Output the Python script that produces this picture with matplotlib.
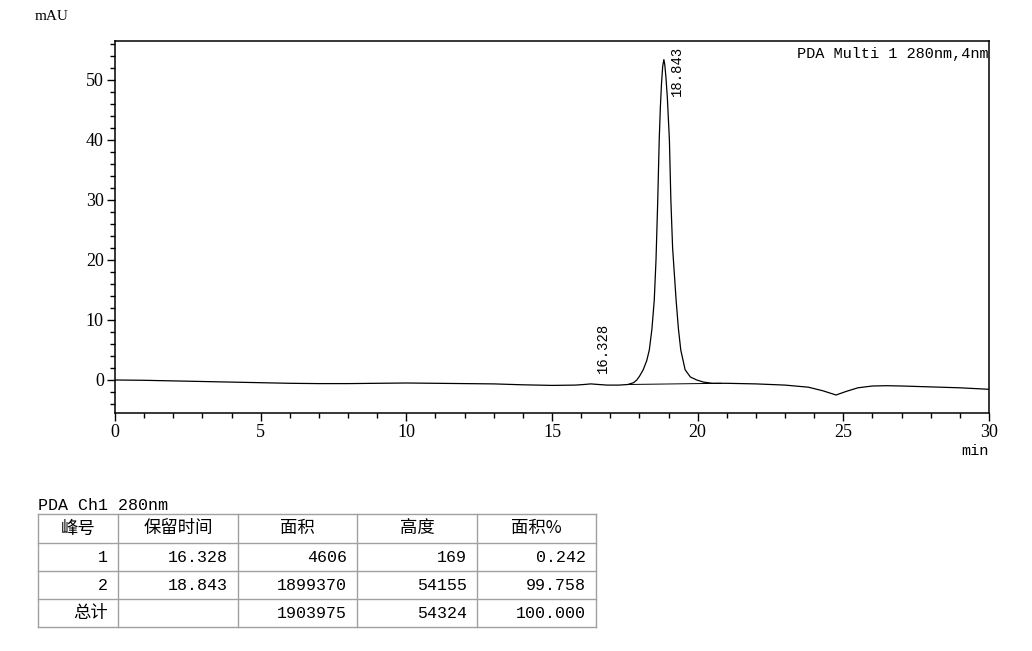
import matplotlib
matplotlib.use("Agg")
import matplotlib.pyplot as plt
from matplotlib.ticker import MultipleLocator

plt.rcParams['font.family'] = ['Liberation Serif', 'Noto Sans CJK SC']

# --- chromatogram trace (time min, signal mAU) ---
trace_t = [0, 1, 2, 3, 4, 5, 6, 7, 8, 9, 10, 11, 12, 13, 14, 15, 15.8, 16.1,
           16.33, 16.6, 16.9, 17.3, 17.6, 17.8, 17.91, 18.0, 18.13, 18.25,
           18.34, 18.43, 18.51, 18.57, 18.63, 18.68, 18.72, 18.76, 18.80,
           18.84, 18.87, 18.91, 18.96, 19.03, 19.08, 19.14, 19.26, 19.34,
           19.42, 19.57, 19.75, 19.97, 20.2, 20.5, 21.0, 21.5, 22, 23, 23.8,
           24.3, 24.75, 25.1, 25.5, 26, 26.5, 27, 28, 29, 30]
trace_y = [0.0, -0.05, -0.15, -0.25, -0.35, -0.45, -0.55, -0.6, -0.6, -0.55,
           -0.5, -0.55, -0.6, -0.65, -0.8, -0.9, -0.85, -0.75, -0.65, -0.75,
           -0.85, -0.85, -0.75, -0.45, 0.0, 0.6, 1.7, 3.2, 5.0, 8.5, 13.3,
           20.0, 30.0, 40.0, 45.5, 49.5, 52.3, 53.4, 52.6, 50.5, 47.0, 40.0,
           30.0, 22.0, 13.3, 8.5, 5.0, 1.7, 0.5, 0.0, -0.35, -0.55, -0.55,
           -0.6, -0.65, -0.85, -1.2, -1.8, -2.5, -1.9, -1.3, -1.0, -0.95,
           -1.0, -1.15, -1.3, -1.55]

# integration baseline under the main peak
base_t = [17.6, 20.8]
base_y = [-0.75, -0.55]

# peak labels
peak_rt = [16.328, 18.843]
peak_label_pos = [(16.75, 1.2), (19.29, 47.3)]

# results table
table_title = "PDA Ch1 280nm"
col_headers = ["峰号", "保留时间", "面积", "高度", "面积%"]
row_ids = ["1", "2", "总计"]
ret_times = ["16.328", "18.843", ""]
areas = ["4606", "1899370", "1903975"]
heights = ["169", "54155", "54324"]
area_pct = ["0.242", "99.758", "100.000"]

W, H = 1032, 651
fig = plt.figure(figsize=(W / 100, H / 100), dpi=100)
ax = fig.add_axes([115 / W, 1 - 413 / H, (989 - 115) / W, (413 - 41) / H])

ax.plot(trace_t, trace_y, color='black', lw=0.9)
ax.plot(base_t, base_y, color='black', lw=0.7)

ax.set_xlim(0, 30)
ax.set_ylim(-5.5, 56.5)
ax.xaxis.set_major_locator(MultipleLocator(5))
ax.xaxis.set_minor_locator(MultipleLocator(1))
ax.yaxis.set_major_locator(MultipleLocator(10))
ax.yaxis.set_minor_locator(MultipleLocator(2))
ax.tick_params(which='major', length=6, width=1, labelsize=13, pad=2)
ax.tick_params(which='minor', length=3.5, width=1)
for sp in ax.spines.values():
    sp.set_linewidth(1.1)

mono = ['Liberation Mono', 'Noto Sans CJK SC']
for rt, (lx, ly) in zip(peak_rt, peak_label_pos):
    ax.text(lx, ly, f"{rt:.3f}", rotation=90, ha='center', va='bottom',
            family=mono, fontsize=10)

ax.text(1.0, 0.985, "PDA Multi 1 280nm,4nm", transform=ax.transAxes,
        ha='right', va='top', family=mono, fontsize=11)
fig.text(35 / W, 1 - 16 / H, "mAU", ha='left', va='center', fontsize=11)
fig.text(989 / W, 1 - 451 / H, "min", ha='right', va='center',
         family=mono, fontsize=11)

# --- table drawn in pixel coordinates ---
tab = fig.add_axes([0, 0, 1, 1])
tab.set_xlim(0, W)
tab.set_ylim(H, 0)
tab.axis('off')
col_x = [38, 118, 238, 357, 477, 596]
row_y = [514, 543, 571, 599, 627]
grid_c = '#a0a0a0'
for x in col_x:
    tab.plot([x, x], [row_y[0], row_y[-1]], color=grid_c, lw=1)
for y in row_y:
    tab.plot([col_x[0], col_x[-1]], [y, y], color=grid_c, lw=1)

tab.text(38, 505, table_title, ha='left', va='center', family=mono, fontsize=12)
for i, h in enumerate(col_headers):
    tab.text((col_x[i] + col_x[i + 1]) / 2, (row_y[0] + row_y[1]) / 2, h,
             ha='center', va='center', family=['Noto Sans CJK SC'], fontsize=12.5)

columns = [row_ids, ret_times, areas, heights, area_pct]
for r in range(len(row_ids)):
    yc = (row_y[r + 1] + row_y[r + 2]) / 2
    for c, col in enumerate(columns):
        txt = col[r]
        fam = ['Noto Sans CJK SC'] if txt == "总计" else mono
        tab.text(col_x[c + 1] - 10, yc, txt, ha='right', va='center',
                 family=fam, fontsize=12.5 if txt == "总计" else 12)

fig.savefig('out.png', dpi=100)
